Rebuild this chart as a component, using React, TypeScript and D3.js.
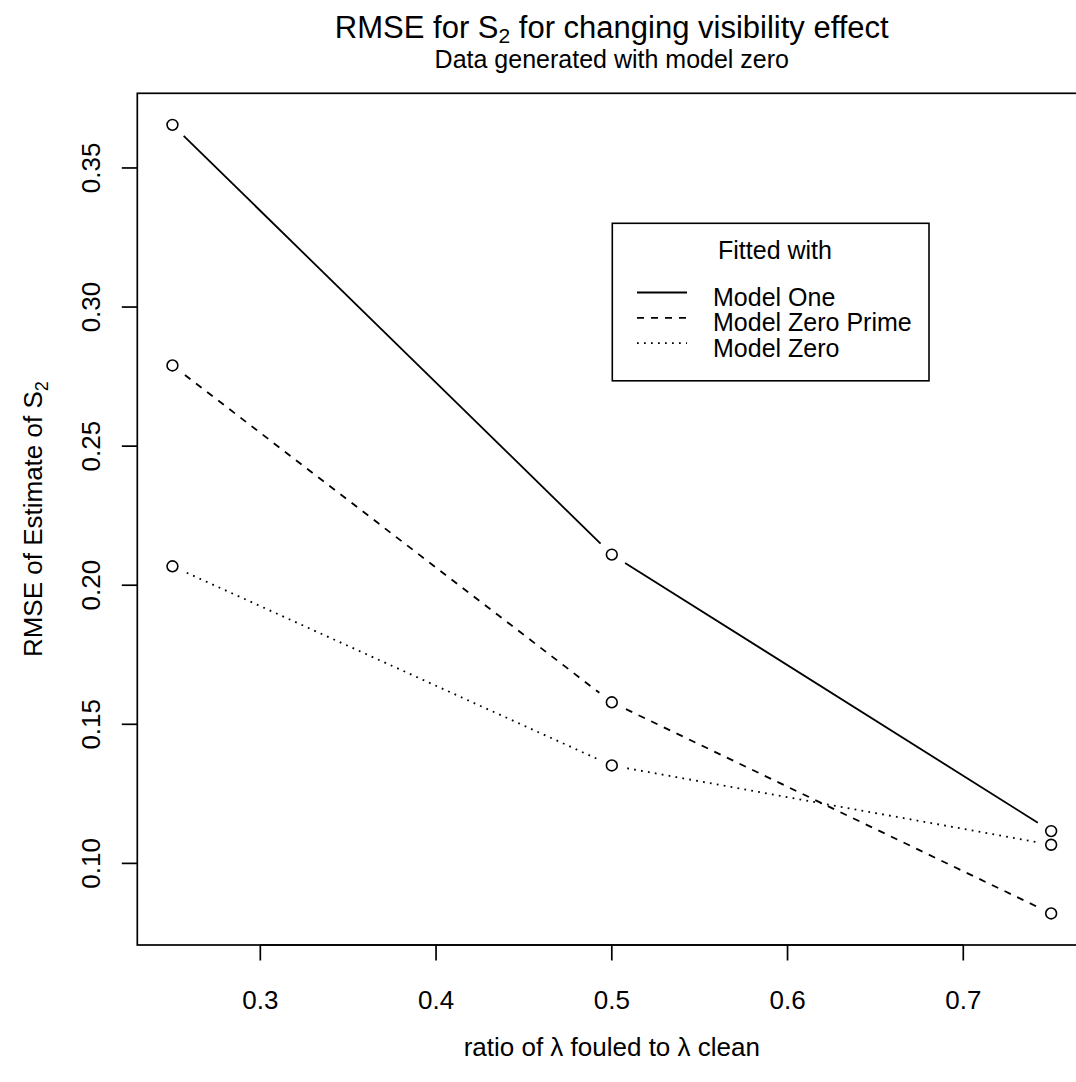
import React from "react";
import * as d3 from "d3";

const xValues = [0.25, 0.5, 0.75];
const modelOne = [0.3655, 0.211, 0.1116];
const modelZeroPrime = [0.279, 0.1579, 0.082];
const modelZero = [0.2068, 0.1352, 0.1067];

const seriesNames = ["Model One", "Model Zero Prime", "Model Zero"];
const seriesValues = [modelOne, modelZeroPrime, modelZero];
const seriesDash = ["none", "7 7", "1.75 5.25"];

const xTicks = [0.3, 0.4, 0.5, 0.6, 0.7];
const yTicks = [0.1, 0.15, 0.2, 0.25, 0.3, 0.35];

const FONT = "'Liberation Sans', Arial, Helvetica, sans-serif";

function padded(ext: [number, number]): [number, number] {
  const d = ext[1] - ext[0];
  return [ext[0] - 0.04 * d, ext[1] + 0.04 * d];
}

export default function App() {
  const W = 1076;
  const H = 1082;
  const left = 137.3;
  const right = 1086.3;
  const top = 93.3;
  const bottom = 945;
  const fs = 26;

  const x = d3
    .scaleLinear()
    .domain(padded(d3.extent(xValues) as [number, number]))
    .range([left, right]);
  const allY = seriesValues.flat();
  const y = d3
    .scaleLinear()
    .domain(padded(d3.extent(allY) as [number, number]))
    .range([bottom, top]);

  const gap = 15.7;
  const lw = 1.8;

  const segments: JSX.Element[] = [];
  seriesValues.forEach((vals, si) => {
    for (let i = 0; i < vals.length - 1; i++) {
      const x0 = x(xValues[i]);
      const y0 = y(vals[i]);
      const x1 = x(xValues[i + 1]);
      const y1 = y(vals[i + 1]);
      const dx = x1 - x0;
      const dy = y1 - y0;
      const d = Math.sqrt(dx * dx + dy * dy);
      if (d <= 2 * gap) continue;
      const ux = dx / d;
      const uy = dy / d;
      segments.push(
        <line
          key={`s${si}-${i}`}
          x1={x0 + ux * gap}
          y1={y0 + uy * gap}
          x2={x1 - ux * gap}
          y2={y1 - uy * gap}
          stroke="#000"
          strokeWidth={lw}
          strokeDasharray={seriesDash[si]}
          fill="none"
        />
      );
    }
  });

  const points: JSX.Element[] = [];
  seriesValues.forEach((vals, si) => {
    vals.forEach((v, i) => {
      points.push(
        <circle
          key={`p${si}-${i}`}
          cx={x(xValues[i])}
          cy={y(v)}
          r={5.4}
          fill="none"
          stroke="#000"
          strokeWidth={1.6}
        />
      );
    });
  });

  const lgX = 612.3;
  const lgY = 223.3;
  const lgW = 316.7;
  const lgH = 157.5;
  const rowBase = [306, 331.3, 356.6];

  return (
    <svg
      width={W}
      height={H}
      viewBox={`0 0 ${W} ${H}`}
      style={{ position: "absolute", left: 0, top: 0, background: "#fff" }}
      fontFamily={FONT}
    >
      <rect x={0} y={0} width={W} height={H} fill="#fff" />
      <text x={(left + right) / 2} y={38} fontSize={31} textAnchor="middle" fill="#000">
        RMSE for S
        <tspan fontSize={21} dy={5}>2</tspan>
        <tspan dy={-5}> for changing visibility effect</tspan>
      </text>
      <text x={(left + right) / 2} y={68} fontSize={fs - 1} textAnchor="middle" fill="#000">
        Data generated with model zero
      </text>

      <rect
        x={left}
        y={top}
        width={right - left}
        height={bottom - top}
        fill="none"
        stroke="#000"
        strokeWidth={1.7}
      />

      <line x1={x(xTicks[0])} x2={x(xTicks[xTicks.length - 1])} y1={bottom} y2={bottom} stroke="#000" strokeWidth={1.7} />
      {xTicks.map((t) => (
        <g key={`xt${t}`}>
          <line x1={x(t)} x2={x(t)} y1={bottom} y2={bottom + 15.5} stroke="#000" strokeWidth={1.7} />
          <text x={x(t)} y={1009} fontSize={fs} textAnchor="middle" fill="#000">
            {d3.format(".1f")(t)}
          </text>
        </g>
      ))}
      <text x={(left + right) / 2} y={1056} fontSize={fs} textAnchor="middle" fill="#000">
        ratio of λ fouled to λ clean
      </text>

      {yTicks.map((t) => (
        <g key={`yt${t}`}>
          <line x1={left - 15.5} x2={left} y1={y(t)} y2={y(t)} stroke="#000" strokeWidth={1.7} />
          <text
            transform={`translate(${100},${y(t)}) rotate(-90)`}
            fontSize={fs}
            textAnchor="middle"
            fill="#000"
          >
            {d3.format(".2f")(t)}
          </text>
        </g>
      ))}
      <text
        transform={`translate(${42},${(top + bottom) / 2}) rotate(-90)`}
        fontSize={fs}
        textAnchor="middle"
        fill="#000"
      >
        RMSE of Estimate of S
        <tspan fontSize={18} dy={6}>2</tspan>
      </text>

      {segments}
      {points}

      <rect x={lgX} y={lgY} width={lgW} height={lgH} fill="#fff" stroke="#000" strokeWidth={1.6} />
      <text x={775} y={259} fontSize={fs - 1} textAnchor="middle" fill="#000">
        Fitted with
      </text>
      {seriesNames.map((name, i) => (
        <g key={`lg${i}`}>
          <line
            x1={637}
            x2={687}
            y1={rowBase[i] - 13.5}
            y2={rowBase[i] - 13.5}
            stroke="#000"
            strokeWidth={lw}
            strokeDasharray={seriesDash[i]}
          />
          <text x={713} y={rowBase[i]} fontSize={fs - 1} fill="#000">
            {name}
          </text>
        </g>
      ))}
    </svg>
  );
}
